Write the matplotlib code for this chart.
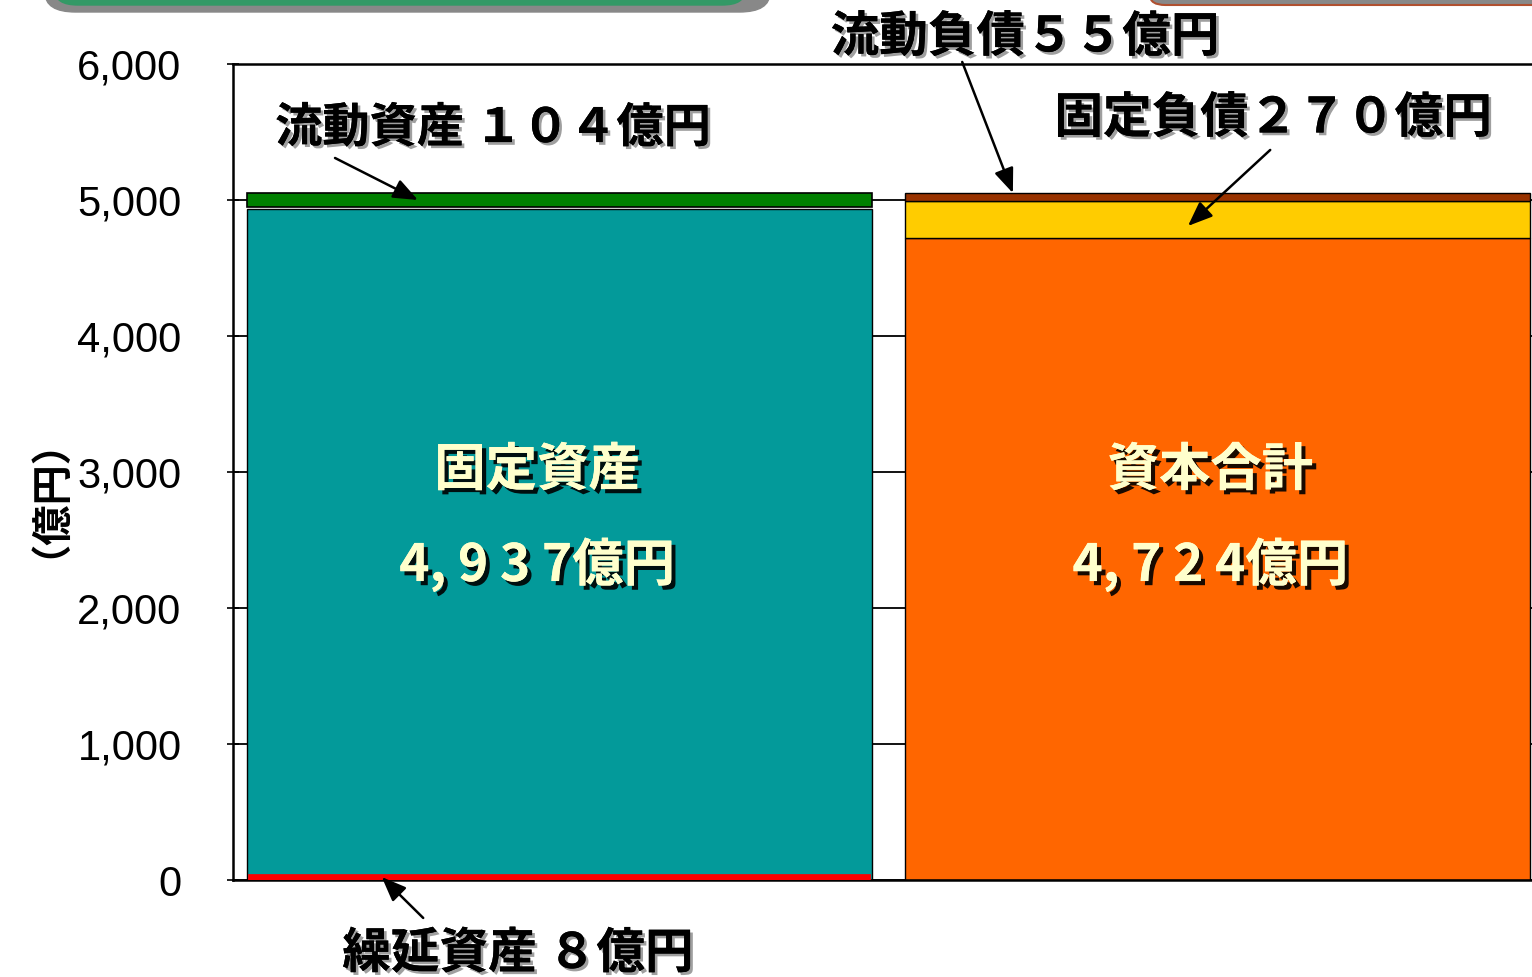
import matplotlib
matplotlib.use("Agg")
import matplotlib.pyplot as plt
import matplotlib.patheffects as pe
from matplotlib.patches import FancyBboxPatch

plt.rcParams['font.family'] = ['Noto Sans CJK JP', 'DejaVu Sans']

# Data (億円)
bars = [0, 1]
deferred_assets = [8, 0]        # 繰延資産
fixed_assets = [4937, 0]        # 固定資産
current_assets = [104, 0]       # 流動資産
equity = [0, 4724]              # 資本合計
fixed_liab = [0, 270]           # 固定負債
current_liab = [0, 55]          # 流動負債
yticks = [0, 1000, 2000, 3000, 4000, 5000, 6000]

fig = plt.figure(figsize=(15.32, 9.77), dpi=100)
ax = fig.add_axes([233 / 1532, 97 / 977, 1311 / 1532, 816 / 977])

w = 0.95
# left bar: assets
ax.bar(0, fixed_assets[0], width=w, color='#039A9A', edgecolor='black', lw=1, zorder=2)
ax.bar(0, current_assets[0], width=w, bottom=fixed_assets[0] + deferred_assets[0],
       color='#008000', edgecolor='black', lw=1.2, zorder=2)
ax.bar(0, deferred_assets[0], width=w * 0.98, color='#FF0000', edgecolor='#FF0000',
       lw=7, zorder=3)
# right bar: liabilities + equity
ax.bar(1, equity[1], width=w, color='#FF6600', edgecolor='black', lw=1, zorder=2)
ax.bar(1, fixed_liab[1], width=w, bottom=equity[1], color='#FFCC00',
       edgecolor='black', lw=1, zorder=2)
ax.bar(1, current_liab[1], width=w, bottom=equity[1] + fixed_liab[1],
       color='#993300', edgecolor='black', lw=1, zorder=2)

ax.set_xlim(-0.496, 1.496)
ax.set_ylim(0, 6000)
ax.set_xticks([])
ax.set_yticks(yticks)
ax.set_yticklabels([f'{v:,}' for v in yticks], fontsize=30, family='Liberation Sans')
ax.tick_params(axis='y', direction='inout', length=8, width=1.2, pad=33)
ax.yaxis.grid(True, color='black', lw=1.3)
ax.set_axisbelow(True)
for s in ax.spines.values():
    s.set_linewidth(1.8)

fig.text(29 / 1532, 1 - 478 / 977, '（億円）', rotation=90, fontsize=29,
         ha='center', va='center', fontweight='bold')

shadow = [pe.withSimplePatchShadow(offset=(2, -2), shadow_rgbFace='#777777', alpha=0.7),
          pe.Normal()]
inner = [pe.withSimplePatchShadow(offset=(3, -3), shadow_rgbFace='black', alpha=0.9),
         pe.Normal()]

def label(x, y, s, size=34):
    ax.text(x, y, s, fontsize=size, fontweight='bold', ha='left', va='center',
            path_effects=shadow, clip_on=False)

def arrow(x0, y0, x1, y1):
    ax.annotate('', xy=(x1, y1), xytext=(x0, y0),
                arrowprops=dict(arrowstyle='-|>,head_length=1.5,head_width=0.6',
                                color='black', lw=1.8, shrinkA=0, shrinkB=0),
                annotation_clip=False, zorder=5)

label(-0.432, 5529, '流動資産 １０４億円')
arrow(-0.341, 5309, -0.215, 5000)
label(0.412, 6199, '流動負債５５億円', 35)
arrow(0.612, 6015, 0.689, 5051)
label(0.752, 5603, '固定負債２７０億円', 35)
arrow(1.080, 5368, 0.955, 4809)
label(-0.330, -540, '繰延資産 ８億円', 35)
arrow(-0.207, -279, -0.270, 22)

for x, name, val in [(-0.034, '固定資産', '4, 9 3 7億円'), (0.989, '資本合計', '4, 7 2 4億円')]:
    ax.text(x, 3015, name, fontsize=37, fontweight='bold', color='#FFFFCC',
            ha='center', va='center', path_effects=inner)
    ax.text(x, 2316, val, fontsize=37, fontweight='bold', color='#FFFFCC',
            ha='center', va='center', path_effects=inner)

# partially visible shapes at the top edge
fig.patches.append(FancyBboxPatch((45 / 1532, 965 / 977), 725 / 1532, 60 / 977,
                                  boxstyle='round,pad=0,rounding_size=0.02',
                                  transform=fig.transFigure, color='#888888'))
fig.patches.append(FancyBboxPatch((55 / 1532, 972 / 977), 690 / 1532, 60 / 977,
                                  boxstyle='round,pad=0,rounding_size=0.015',
                                  transform=fig.transFigure, color='#339966'))
fig.patches.append(FancyBboxPatch((1150 / 1532, 972 / 977), 400 / 1532, 60 / 977,
                                  boxstyle='round,pad=0,rounding_size=0.01',
                                  transform=fig.transFigure, facecolor='#888888',
                                  edgecolor='#B05030', lw=1.5))

fig.savefig('out.png', dpi=100)
